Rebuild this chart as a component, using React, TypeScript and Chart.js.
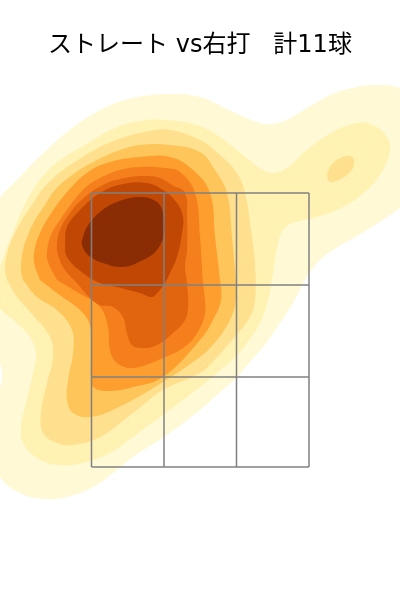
import React, { useEffect, useRef } from "react";
import { Chart, registerables } from "chart.js";

Chart.register(...registerables);

const titleText = "ストレート vs右打   計11球";

// Density contour outlines, in plate units: [horizontal, height]
const level1 = [[-220,360],[-200,402],[-183,420],[-167,437],[-150,453],[-133,468],[-100,490],[-67,502],[-33,506],[0,503],[33,488],[60,477],[70,476],[87,480],[107,492],[133,506],[157,513],[177,515],[200,512],[230,495],[230,415],[200,392],[167,370],[133,350],[117,337],[105,320],[93,297],[80,277],[67,258],[50,238],[37,223],[17,205],[0,190],[-33,165],[-67,143],[-83,130],[-107,113],[-133,103],[-157,101],[-180,107],[-200,123],[-215,160],[-208,200],[-200,213],[-198,225],[-200,237],[-208,255],[-220,300]];
const level2 = [[-205,310],[-200,332],[-190,360],[-180,385],[-170,405],[-157,424],[-140,440],[-110,458],[-85,472],[-60,479],[-33,480],[0,474],[20,463],[43,445],[63,430],[73,427],[87,432],[107,450],[133,468],[157,477],[173,475],[187,463],[190,450],[183,430],[167,410],[143,393],[117,383],[93,377],[83,370],[78,357],[75,340],[72,320],[68,300],[60,277],[47,257],[37,245],[17,227],[0,213],[-33,188],[-67,163],[-90,147],[-117,137],[-143,135],[-163,142],[-177,157],[-179,173],[-175,193],[-167,227],[-164,247],[-170,263],[-183,277],[-200,292]];
const level3 = [[-193,320],[-195,332],[-192,350],[-186,365],[-178,380],[-168,395],[-158,410],[-142,426],[-122,440],[-100,453],[-75,463],[-50,469],[-30,470],[0,460],[20,445],[37,427],[45,407],[51,370],[55,335],[55,300],[50,283],[38,267],[17,243],[0,227],[-37,210],[-67,187],[-100,163],[-127,155],[-143,157],[-157,167],[-159,187],[-153,217],[-147,243],[-150,263],[-167,285],[-183,303]];
const level3b = [[127,427],[133,437],[143,443],[152,443],[154,435],[147,425],[133,418],[128,420]];
const level4 = [[-177,320],[-179,330],[-177,350],[-172,365],[-165,380],[-155,395],[-145,410],[-125,427],[-103,440],[-80,450],[-60,455],[-30,455],[0,448],[15,430],[27,407],[32,363],[36,317],[36,303],[33,287],[23,268],[10,252],[0,243],[-37,218],[-83,192],[-110,183],[-127,187],[-133,200],[-132,220],[-127,247],[-128,270],[-143,290],[-163,303]];
const level5 = [[-160,320],[-166,338],[-165,352],[-160,367],[-150,385],[-132,409],[-112,428],[-90,438],[-60,443],[-30,443],[-7,430],[10,407],[15,363],[20,320],[21,300],[13,280],[0,260],[-37,223],[-67,213],[-93,209],[-107,213],[-109,223],[-109,240],[-109,270],[-117,287],[-143,307]];
const level6 = [[-143,320],[-152,338],[-153,348],[-149,365],[-140,380],[-128,397],[-115,412],[-100,422],[-80,430],[-60,433],[-35,432],[-20,428],[-5,407],[0,363],[3,317],[5,300],[5,287],[0,272],[-13,255],[-37,242],[-67,232],[-83,237],[-90,250],[-92,273],[-100,293],[-123,308]];
const level7 = [[-123,317],[-135,330],[-142,345],[-143,355],[-140,370],[-130,387],[-115,403],[-95,416],[-75,422],[-55,424],[-40,422],[-28,415],[-15,407],[-13,383],[-13,350],[-15,333],[-13,317],[-12,293],[-15,280],[-27,267],[-43,255],[-57,252],[-68,255],[-73,267],[-77,283],[-87,293],[-100,295],[-110,302]];
const level8 = [[-135,358],[-133,373],[-120,390],[-100,407],[-77,416],[-53,417],[-37,410],[-23,397],[-17,383],[-18,367],[-23,343],[-30,327],[-35,317],[-42,308],[-48,303],[-60,307],[-83,313],[-100,317],[-117,327],[-133,343]];
const level9 = [[-118,360],[-113,373],[-100,388],[-83,398],[-60,403],[-43,398],[-37,387],[-36,367],[-43,350],[-57,340],[-77,333],[-97,337],[-112,345],[-118,355]];

const contourLevels = [level9, level8, level7, level6, level5, level4, level3b, level3, level2, level1];
const contourColors = ["#8b2d04", "#c04704", "#e1640e", "#f47f1c", "#fd9e2e", "#fec55a", "#fee08f", "#fee08f", "#fff2b3", "#fffad5"];

const zoneX = [-108.5, -36, 36.5, 109];
const zoneY = [133, 223, 315, 407];
const zoneColor = "#808080";

export default function App() {
  const ref = useRef<HTMLCanvasElement | null>(null);
  useEffect(() => {
    document.body.style.margin = "0";
    const toPts = (a: number[][]) => a.map(([x, y]) => ({ x, y }));
    const gridSets: any[] = [];
    for (const x of zoneX) {
      gridSets.push({ data: [{ x, y: zoneY[0] }, { x, y: zoneY[3] }] });
    }
    for (const y of zoneY) {
      gridSets.push({ data: [{ x: zoneX[0], y }, { x: zoneX[3], y }] });
    }
    const grid = gridSets.map((g) => ({
      ...g,
      showLine: true,
      fill: false,
      tension: 0,
      borderColor: zoneColor,
      borderWidth: 1.5,
      pointRadius: 0,
    }));
    const contours = contourLevels.map((lvl, i) => {
      const pts = toPts(lvl);
      return {
        data: [...pts, pts[0]],
        showLine: true,
        fill: "shape",
        tension: 0.4,
        capBezierPoints: false,
        backgroundColor: contourColors[i],
        borderColor: contourColors[i],
        borderWidth: 0,
        pointRadius: 0,
      };
    });
    const chart = new Chart(ref.current!, {
      type: "scatter",
      data: { datasets: [...grid, ...contours] as any },
      options: {
        animation: false,
        responsive: false,
        layout: { padding: 0 },
        events: [],
        scales: {
          x: { type: "linear", display: false, min: -200, max: 200 },
          y: { type: "linear", display: false, min: 0, max: 520 },
        },
        plugins: {
          legend: { display: false },
          tooltip: { enabled: false },
          title: {
            display: true,
            text: titleText,
            color: "#000000",
            font: { family: "'DejaVu Sans', 'Noto Sans CJK JP'", size: 24, weight: "normal" },
            padding: { top: 31.6, bottom: 19.6 },
          },
        },
      },
    });
    return () => chart.destroy();
  }, []);
  return <canvas ref={ref} width={400} height={600} style={{ display: "block" }} />;
}
